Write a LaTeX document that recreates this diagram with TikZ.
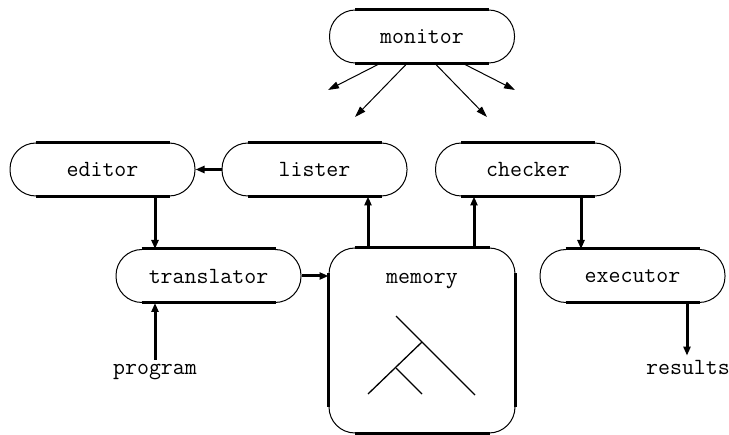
\documentclass[tikz,border=0pt]{standalone}
\usetikzlibrary{arrows.meta}
\begin{document}
\begin{tikzpicture}[x=1pt,y=-1pt,
    unit/.style={draw, line width=1pt, rounded corners=26pt, minimum width=185pt, minimum height=53pt, inner sep=0pt, font=\ttfamily\fontsize{23.2}{28}\selectfont},
    word/.style={font=\ttfamily\fontsize{23.2}{28}\selectfont, inner sep=5pt},
    heavy/.style={line width=3pt},
    flow/.style={line width=3pt, -{Triangle[length=9pt,width=7pt]}},
    hint/.style={line width=1pt, -{Triangle[length=11pt,width=7pt]}}]
        \useasboundingbox (0,0) rectangle (729,435);
        \node[unit] (monitor) at (422,36.5) {monitor};
        \node[unit] (editor) at (102.5,169.5) {editor};
        \node[unit] (lister) at (314.5,169.5) {lister};
        \node[unit] (checker) at (528,169.5) {checker};
        \node[unit] (translator) at (208.5,276) {translator};
        \node[unit] (executor) at (632.5,276) {executor};
        \node[unit, minimum width=186pt, minimum height=185pt] (memory) at (422,340.5) {};
        \node[word, anchor=base] (memtext) at (422,284) {memory};
        \node[word, anchor=base] (program) at (155,375) {program};
        \node[word, anchor=base] (results) at (688,375) {results};
        % straight sides drawn heavy
        \foreach \n in {monitor,editor,lister,checker,translator,executor,memory}{
            \draw[heavy] ([xshift=26pt]\n.north west) -- ([xshift=-26pt]\n.north east);
            \draw[heavy] ([xshift=26pt]\n.south west) -- ([xshift=-26pt]\n.south east);
        }
        \draw[heavy] ([yshift=-26pt]memory.north west) -- ([yshift=26pt]memory.south west);
        \draw[heavy] ([yshift=-26pt]memory.north east) -- ([yshift=26pt]memory.south east);
        % monitor watches everything
        \coordinate (m1) at (328,90);
        \coordinate (m2) at (355,117);
        \coordinate (m3) at (487,117);
        \coordinate (m4) at (515,90);
        \draw[hint] ([xshift=-42pt]monitor.south) -- (m1);
        \draw[hint] ([xshift=-15pt]monitor.south) -- (m2);
        \draw[hint] ([xshift=13pt]monitor.south) -- (m3);
        \draw[hint] ([xshift=41pt]monitor.south) -- (m4);
        % data flow
        \draw[flow] (lister.west) -- (editor.east);
        \draw[flow] ([xshift=52.5pt]editor.south) -- ([xshift=52.5pt]editor.south |- translator.north);
        \draw[flow] (translator.east) -- (translator.east -| memory.west);
        \draw[flow] ([xshift=-54pt]memory.north) -- ([xshift=-54pt]memory.north |- lister.south);
        \draw[flow] ([xshift=52pt]memory.north) -- ([xshift=52pt]memory.north |- checker.south);
        \draw[flow] ([xshift=53pt]checker.south) -- ([xshift=53pt]checker.south |- executor.north);
        \draw[flow] (program.north) -- (program.north |- translator.south);
        \draw[flow] ([xshift=54.5pt]executor.south) -- ([xshift=54.5pt]executor.south |- results.north);
        % tree in memory
        \coordinate (apex) at (396,316);
        \coordinate (fork) at (422,342);
        \coordinate (twig) at (396,368);
        \draw[line width=1.3pt] (apex) -- (475,395);
        \draw[line width=1.3pt] (fork) -- (368,394);
        \draw[line width=1.3pt] (twig) -- (422,394);
\end{tikzpicture}
\end{document}
